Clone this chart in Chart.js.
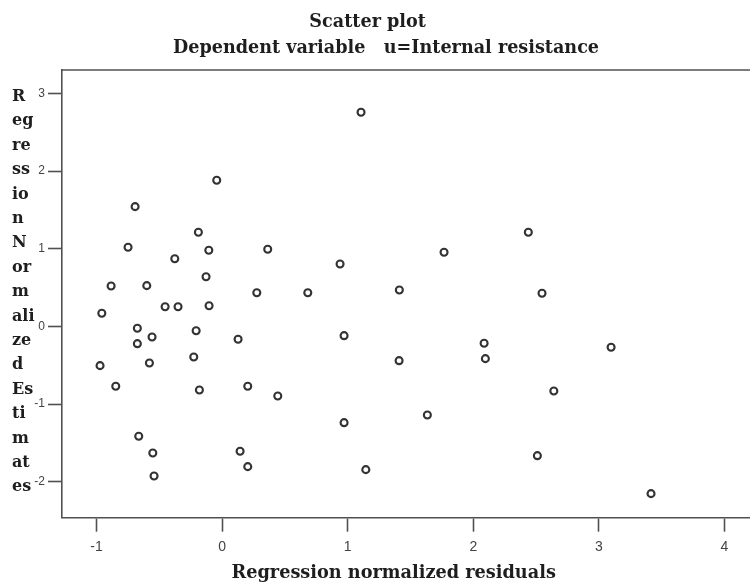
<!DOCTYPE html>
<html>
<head>
<meta charset="utf-8">
<script src="https://cdn.jsdelivr.net/npm/chart.js@4.4.1/dist/chart.umd.min.js"></script>
<style>
  html, body { margin: 0; padding: 0; background: #fff; }
  canvas { display: block; }
</style>
</head>
<body>
<canvas id="scatterChart" width="750" height="585"></canvas>
<script>
// values (x = normalized residual, y = normalized estimate)
const residuals = [
  1.106, -0.043, -0.693, -0.189, -0.749, -0.106, 0.363, -0.377, 0.939, -0.884,
  -0.600, -0.128, 0.276, 0.682, 1.411, 1.767, 2.438, 2.547, -0.958, -0.454,
  -0.351, -0.104, -0.675, -0.558, -0.207, 0.127, 0.971, -0.675, -0.226, 1.409,
  -0.972, -0.579, -0.847, -0.181, 0.204, 0.443, 0.971, -0.664, -0.552, 0.143,
  0.204, 1.144, -0.542, 2.086, 2.096, 3.097, 2.641, 1.634, 2.510, 3.415
];
const estimates = [
  2.757, 1.881, 1.542, 1.212, 1.019, 0.980, 0.993, 0.872, 0.804, 0.521,
  0.525, 0.640, 0.434, 0.434, 0.469, 0.955, 1.212, 0.427, 0.169, 0.254,
  0.254, 0.267, -0.024, -0.136, -0.055, -0.165, -0.119, -0.222, -0.393, -0.441,
  -0.505, -0.471, -0.770, -0.818, -0.770, -0.895, -1.239, -1.414, -1.629, -1.607,
  -1.805, -1.844, -1.925, -0.217, -0.415, -0.268, -0.831, -1.140, -1.664, -2.153
];
const xTicks = [-1, 0, 1, 2, 3, 4];
const yTicks = [-2, -1, 0, 1, 2, 3];
const titleLines = ['Scatter plot', 'Dependent variable   u=Internal resistance'];
const xTitle = 'Regression normalized residuals';
const yTitleParts = ['R', 'eg', 're', 'ss', 'io', 'n', 'N', 'or', 'm', 'ali', 'ze', 'd', 'Es', 'ti', 'm', 'at', 'es'];

const serif = '"DejaVu Serif", "Liberation Serif", serif';
const narrow = '"Liberation Sans Narrow", "Arial Narrow", "Liberation Sans", sans-serif';
const lineColor = '#505050';

// the original centres are a bit left of the chart's own centre, trailing spaces nudge them
const pad = n => ' '.repeat(n);

// stacked y title + top frame line
const frameAndTitle = {
  id: 'frameAndTitle',
  afterDraw(chart) {
    const { ctx, chartArea } = chart;
    ctx.save();
    ctx.strokeStyle = lineColor;
    ctx.lineWidth = 1.6;
    ctx.beginPath();
    ctx.moveTo(chartArea.left, chartArea.top);
    ctx.lineTo(chartArea.right, chartArea.top);
    ctx.stroke();

    ctx.font = 'bold 16px ' + serif;
    ctx.fillStyle = '#1e1e1e';
    ctx.textAlign = 'left';
    ctx.textBaseline = 'alphabetic';
    yTitleParts.forEach((part, i) => {
      ctx.fillText(part, 12, chartArea.top + 31 + i * 24.4);
    });
    ctx.restore();
  }
};

const axisGrid = {
  display: true,
  drawOnChartArea: false,
  drawTicks: true,
  tickLength: 14,
  tickColor: lineColor,
  tickWidth: 1.6
};

new Chart(document.getElementById('scatterChart'), {
  type: 'scatter',
  data: {
    datasets: [{
      data: residuals.map((x, i) => ({ x, y: estimates[i] })),
      pointStyle: 'circle',
      pointRadius: 3.5,
      borderWidth: 2.1,
      borderColor: '#333',
      backgroundColor: 'rgba(255,255,255,0)'
    }]
  },
  options: {
    responsive: false,
    animation: false,
    layout: { autoPadding: false, padding: { left: 22, right: 0, top: 0, bottom: 0 } },
    plugins: {
      legend: { display: false },
      tooltip: { enabled: false },
      title: {
        display: true,
        text: [titleLines[0] + pad(6), titleLines[1]],
        color: '#1e1e1e',
        font: { family: serif, size: 17.6, weight: 'bold', lineHeight: 1.5 },
        padding: { top: 9, bottom: 8.2 }
      }
    },
    scales: {
      x: {
        type: 'linear',
        min: -1.275,
        max: 4.203,
        afterBuildTicks: axis => { axis.ticks = xTicks.map(value => ({ value })); },
        grid: axisGrid,
        border: { display: true, color: lineColor, width: 1.6 },
        ticks: {
          padding: 7,
          color: '#444',
          font: { family: narrow, size: 14 },
          callback: v => String(v)
        },
        title: {
          display: true,
          text: xTitle + pad(4),
          color: '#1e1e1e',
          font: { family: serif, size: 17.7, weight: 'bold', lineHeight: 1.2 },
          padding: { top: 0, bottom: 1.3 }
        }
      },
      y: {
        type: 'linear',
        min: -2.462,
        max: 3.301,
        afterBuildTicks: axis => { axis.ticks = yTicks.map(value => ({ value })); },
        afterFit: axis => { axis.width = 40; },
        grid: axisGrid,
        border: { display: true, color: lineColor, width: 1.6 },
        ticks: {
          padding: 3,
          color: '#444',
          font: { family: narrow, size: 12 },
          callback: v => String(v)
        }
      }
    }
  },
  plugins: [frameAndTitle]
});
</script>
</body>
</html>
